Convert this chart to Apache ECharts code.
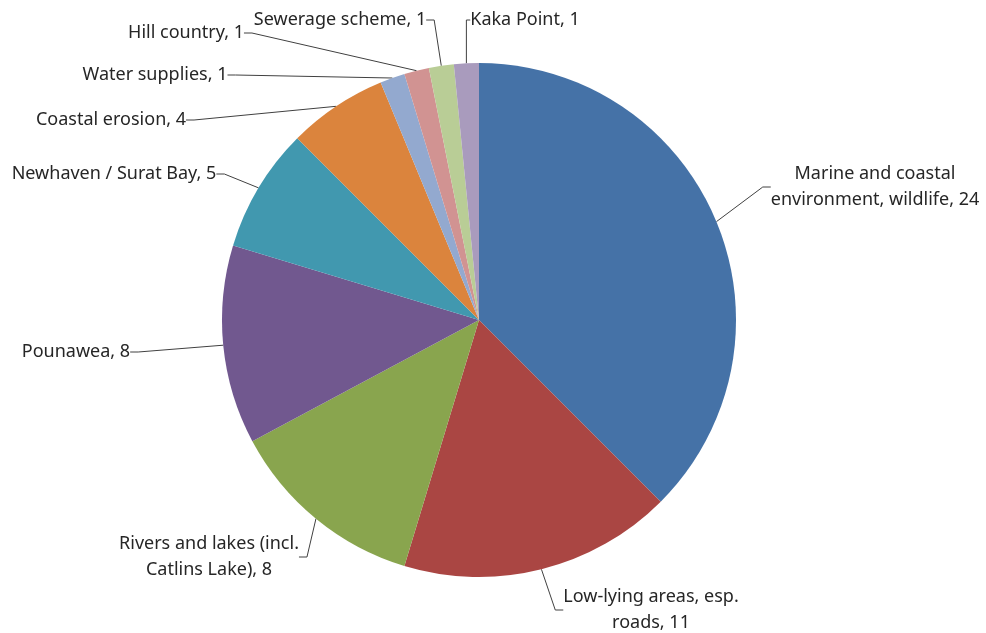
<!DOCTYPE html>
<html><head><meta charset="utf-8">
<script src="https://cdn.jsdelivr.net/npm/echarts@6/dist/echarts.min.js"></script>
<style>html,body{margin:0;padding:0;background:#fff}#c{width:986px;height:633px}</style>
</head><body><div id="c"></div>
<script>
var categories = ['Marine and coastal environment, wildlife','Low-lying areas, esp. roads','Rivers and lakes (incl. Catlins Lake)','Pounawea','Newhaven / Surat Bay','Coastal erosion','Water supplies','Hill country','Sewerage scheme','Kaka Point'];
var values = [24, 11, 8, 8, 5, 4, 1, 1, 1, 1];
var labelTexts = ['Marine and coastal\nenvironment, wildlife','Low-lying areas, esp.\nroads','Rivers and lakes (incl.\nCatlins Lake)','Pounawea','Newhaven / Surat Bay','Coastal erosion','Water supplies','Hill country','Sewerage scheme','Kaka Point'];
var colors = ['#4572A7','#AA4643','#89A54E','#71588F','#4198AF','#DB843D','#93A9CF','#D19392','#B9CD96','#A99BBD'];
// label centre positions (layout only)
var labelPos = [[875,187],[651,610],[209,557],[76,352],[114,174],[111,120],[155,75],[186,33],[340,20],[525,20]];

var chart = echarts.init(document.getElementById('c'));
chart.setOption({
  animation: false,
  color: colors,
  series: [{
    type: 'pie',
    center: [479, 320],
    radius: 257,
    startAngle: 90,
    clockwise: true,
    avoidLabelOverlap: false,
    itemStyle: { borderWidth: 0 },
    emphasis: { disabled: true },
    label: {
      show: true,
      position: 'outside',
      fontFamily: 'Noto Sans, sans-serif',
      fontSize: 18,
      lineHeight: 26,
      color: '#262626',
      align: 'center',
      formatter: function (p) { return labelTexts[p.dataIndex] + ', ' + p.value; }
    },
    labelLine: { show: true, length: 10, length2: 8, lineStyle: { color: '#404040', width: 1 } },
    labelLayout: function (p) {
      var pos = labelPos[p.dataIndex];
      return { x: pos[0], y: pos[1], align: 'center', verticalAlign: 'middle' };
    },
    data: categories.map(function (c, i) { return { name: c, value: values[i] }; })
  }]
});
</script></body></html>
